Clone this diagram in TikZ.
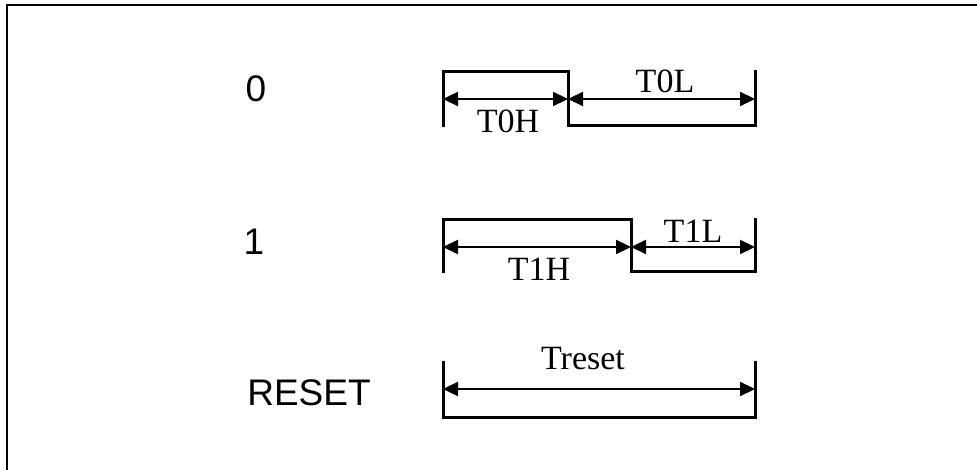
\documentclass[tikz,border=0pt]{standalone}
\usepackage{fontspec}
\setmainfont{Liberation Serif}
\setsansfont{Liberation Sans}
\usetikzlibrary{arrows.meta}

\begin{document}
\begin{tikzpicture}[x=1pt,y=-1pt,
		onda/.style={line width=3pt},
		quota/.style={{Triangle[length=15pt,width=14pt]}-{Triangle[length=15pt,width=14pt]}, line width=2.2pt},
		bit/.style={font=\fontsize{37}{40}\selectfont\sffamily, anchor=base, inner sep=0pt},
		tempo/.style={font=\fontsize{34}{38}\selectfont, anchor=base, inner sep=0pt}]
	\useasboundingbox (0,0) rectangle (977,470);
	\draw[line width=2.8pt] (7,470) -- (7,5) -- (977,5); % cornice

	\node[bit] (b0) at (256,102) {0};
	\node[bit] (b1) at (254,255) {1};
	\node[bit] (rst) at (309,405) {RESET};

	% bit 0
	\draw[onda] (443,127) coordinate (a0) -- (443,72) -- (568,72) coordinate (m0) -- (568,126) -- (755,126) -- (755,70) coordinate (c0);
	\coordinate (a0q) at (443,99); \coordinate (m0q) at (568,99); \coordinate (c0q) at (755,99);
	\draw[quota] (a0q) -- (m0q); % T0H
	\draw[quota] (m0q) -- (c0q); % T0L
	\node[tempo] (t0h) at (508,133) {T0H};
	\node[tempo] (t0l) at (665,93) {T0L};

	% bit 1
	\draw[onda] (443,273) coordinate (a1) -- (443,220) -- (631,220) coordinate (m1) -- (631,272) -- (755,272) -- (755,218) coordinate (c1);
	\coordinate (a1q) at (443,247); \coordinate (m1q) at (631,247); \coordinate (c1q) at (755,247);
	\draw[quota] (a1q) -- (m1q); % T1H
	\draw[quota] (m1q) -- (c1q); % T1L
	\node[tempo] (t1h) at (539,280) {T1H};
	\node[tempo] (t1l) at (693,243) {T1L};

	% reset
	\draw[onda] (443,361) coordinate (ar) -- (443,417) -- (755,417) -- (755,361) coordinate (cr);
	\coordinate (arq) at (443,389); \coordinate (crq) at (755,389);
	\draw[quota] (arq) -- (crq); % Treset
	\node[tempo] (tr) at (583,369) {Treset};
\end{tikzpicture}
\end{document}
